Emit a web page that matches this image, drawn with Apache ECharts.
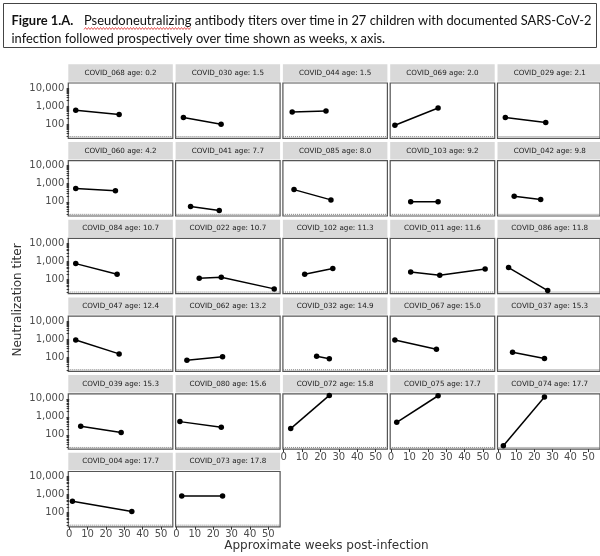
<!DOCTYPE html>
<html><head><meta charset="utf-8">
<script src="https://cdn.jsdelivr.net/npm/echarts@6/dist/echarts.min.js"></script>
<style>html,body{margin:0;padding:0;background:#fff}#c{width:600px;height:556px}</style>
</head><body><div id="c"></div>
<script>
// ---- data ----
const ids = ['COVID_068','COVID_030','COVID_044','COVID_069','COVID_029',
  'COVID_060','COVID_041','COVID_085','COVID_103','COVID_042',
  'COVID_084','COVID_022','COVID_102','COVID_011','COVID_086',
  'COVID_047','COVID_062','COVID_032','COVID_067','COVID_037',
  'COVID_039','COVID_080','COVID_072','COVID_075','COVID_074',
  'COVID_004','COVID_073'];
const ages = ['0.2','1.5','1.5','2.0','2.1','4.2','7.7','8.0','9.2','9.8',
  '10.7','10.7','11.3','11.6','11.8','12.4','13.2','14.9','15.0','15.3',
  '15.3','15.6','15.8','17.7','17.7','17.7','17.8'];
const weeks = [
  [3.6,27.2],[3.8,24.3],[4.6,23.0],[2.1,25.6],[3.9,26.3],
  [3.6,25.2],[7.7,23.3],[5.6,25.7],[10.7,25.6],[8.8,23.5],
  [3.6,26.1],[12.4,24.4,53.2],[11.4,26.7],[10.7,26.5,51.2],[5.7,27.4],
  [3.6,27.2],[5.7,25.1],[17.9,24.8],[2.1,24.7],[7.9,25.6],
  [6.3,28.3],[1.9,24.4],[3.8,24.8],[3.1,25.6],[2.8,25.6],
  [1.8,34.1],[2.9,25.1]];
const titers = [
  [578,335],[229,98],[472,537],[86,785],[229,121],
  [537,414],[54,33],[472,127],[100,100],[201,132],
  [758,194],[116,132,30],[194,400],[263,171,385],[454,24],
  [903,152],[67,104],[112,81],[903,273],[187,84],
  [299,134],[543,263],[223,15400],[497,14800],[25,12600],
  [421,114],[837,832]];
const xTicks = [0,10,20,30,40,50];
const yTickLabels = [100,1000,10000];
const yMinorTicks = [20,30,40,50,60,70,80,90,100,200,300,400,500,600,700,800,900,1000,2000,3000,4000,5000,6000,7000,8000,9000,10000];
const LOD = 20;
const xTitle = 'Approximate weeks post-infection';
const yTitle = 'Neutralization titer';
const captionBold = 'Figure 1.A.';
const caption1 = 'Pseudoneutralizing antibody titers over time in 27 children with documented SARS-CoV-2';
const caption2 = 'infection followed prospectively over time shown as weeks, x axis.';

// ---- layout ----
const XMIN = -0.45, XMAX = 56.4, YMIN = 16.2, YMAX = 19000;
const LEFT0 = 68.3, PX = 107.3, W = 104.5, TOP0 = 83, PY = 77.7, H = 55.3;
const FONT = 'DejaVu Sans';

function fitSize(text, family, weight, target) {
  const cv = document.createElement('canvas').getContext('2d');
  cv.font = weight + ' 20px ' + family;
  return 20 * target / cv.measureText(text).width;
}
const capFont = 'Lato';
const capSize = fitSize(caption2, capFont, 'normal', 374);

const grids = [], xAxes = [], yAxes = [], series = [], graphics = [];
ids.forEach((id, i) => {
  const r = Math.floor(i / 5), c = i % 5;
  const left = LEFT0 + c * PX, top = TOP0 + r * PY;
  const showX = (i + 5 >= ids.length);
  const showY = (c === 0);
  grids.push({left: left, top: top, width: W, height: H, show: true,
    borderColor: '#555', borderWidth: 1.2, backgroundColor: '#fff', containLabel: false});
  xAxes.push({type: 'value', gridIndex: i, min: XMIN, max: XMAX,
    axisLine: {show: false}, splitLine: {show: false},
    axisTick: {show: showX, customValues: xTicks, length: 3, lineStyle: {color: '#333'}},
    axisLabel: {show: showX, customValues: xTicks, color: '#4d4d4d', fontSize: 10, fontFamily: FONT, margin: 3}});
  yAxes.push({type: 'log', gridIndex: i, min: YMIN, max: YMAX, logBase: 10,
    axisLine: {show: false}, splitLine: {show: false},
    axisTick: {show: showY, customValues: yMinorTicks, length: 2.5, lineStyle: {color: '#333'}},
    axisLabel: {show: showY, customValues: yTickLabels, color: '#4d4d4d', fontSize: 10, fontFamily: FONT, margin: 4,
      formatter: v => Number(v).toLocaleString('en-US')}});
  // limit-of-detection reference line
  series.push({type: 'line', xAxisIndex: i, yAxisIndex: i,
    data: [[XMIN, LOD], [XMAX, LOD]], symbol: 'none', silent: true, animation: false, z: 1,
    lineStyle: {type: 'dotted', color: '#7a7a7a', width: 1}});
  series.push({type: 'line', xAxisIndex: i, yAxisIndex: i,
    data: weeks[i].map((w, k) => [w, titers[i][k]]),
    symbol: 'circle', symbolSize: 5.5, showSymbol: true, z: 3,
    lineStyle: {color: '#000', width: 1.5}, itemStyle: {color: '#000'},
    animation: false, silent: true});
  graphics.push({type: 'rect', shape: {x: left, y: top - 18.7, width: W, height: 17.4},
    style: {fill: '#d9d9d9'}, silent: true});
  graphics.push({type: 'text', x: left + W / 2, y: top - 10,
    style: {text: id + ' age: ' + ages[i], fill: '#1a1a1a', font: '7.2px "DejaVu Sans"', textAlign: 'center', textVerticalAlign: 'middle'}});
});

// axis titles
graphics.push({type: 'text', x: 326.5, y: 546, style: {text: xTitle, fill: '#333', font: '12px "DejaVu Sans"', textAlign: 'center', textVerticalAlign: 'middle'}});
graphics.push({type: 'text', x: 18, y: 300, rotation: Math.PI / 2,
  style: {text: yTitle, fill: '#333', font: '12px "DejaVu Sans"', textAlign: 'center', textVerticalAlign: 'middle'}});

// caption box
graphics.push({type: 'rect', shape: {x: 3.5, y: 3.5, width: 593, height: 44}, style: {fill: 'none', stroke: '#444', lineWidth: 1}});
graphics.push({type: 'text', x: 11.5, y: 21, style: {text: captionBold, fill: '#111', font: 'bold ' + capSize.toFixed(2) + 'px ' + capFont, textVerticalAlign: 'middle'}});
graphics.push({type: 'text', x: 84, y: 21, style: {text: caption1, fill: '#111', font: capSize.toFixed(2) + 'px ' + capFont, textVerticalAlign: 'middle'}});
graphics.push({type: 'text', x: 11.5, y: 38.5, style: {text: caption2, fill: '#111', font: capSize.toFixed(2) + 'px ' + capFont, textVerticalAlign: 'middle'}});
// spell-check squiggle under first word
(function () {
  const cv = document.createElement('canvas').getContext('2d');
  cv.font = capSize + 'px ' + capFont;
  const wlen = cv.measureText(caption1.split(' ')[0]).width;
  const pts = [];
  for (let x = 0, k = 0; x <= wlen; x += 1.5, k++) pts.push([84 + x, 28.5 + (k % 2 ? -1 : 1)]);
  graphics.push({type: 'polyline', shape: {points: pts}, style: {stroke: '#e03030', lineWidth: 0.8, fill: null}, silent: true});
})();

const chart = echarts.init(document.getElementById('c'), null, {renderer: 'canvas'});
chart.setOption({
  animation: false,
  grid: grids, xAxis: xAxes, yAxis: yAxes, series: series,
  graphic: {elements: graphics}
});
</script></body></html>
